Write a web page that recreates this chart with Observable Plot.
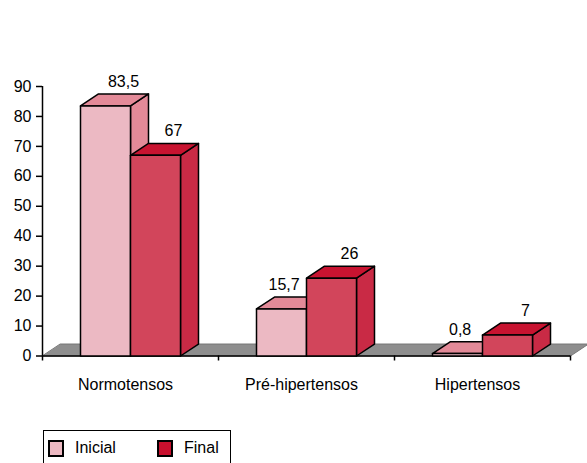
<!DOCTYPE html>
<html><head><meta charset="utf-8">
<script src="https://cdn.jsdelivr.net/npm/d3@7"></script>
<script src="https://cdn.jsdelivr.net/npm/@observablehq/plot@0.6"></script>
<style>
body{margin:0;background:#fff;font-family:"Liberation Sans",Arial,sans-serif;}
#wrap{position:relative;width:587px;height:463px;overflow:hidden;background:#fff;}
#legend{position:absolute;left:43px;top:430px;width:188px;height:45px;border:1.5px solid #000;box-sizing:border-box;font-size:16px;color:#000;}
.item{position:absolute;top:8px;display:flex;align-items:center;line-height:18px;}
.sw{width:16px;height:17px;border:2px solid #000;box-sizing:border-box;margin-right:11px;}
</style></head><body>
<div id="wrap"><div id="chart"></div><div id="legend"></div></div>
<script>
const categories = ["Normotensos", "Pré-hipertensos", "Hipertensos"];
const inicial = [83.5, 15.7, 0.8];
const final = [67, 26, 7];
const seriesNames = ["Inicial", "Final"];
const yTicks = [0, 10, 20, 30, 40, 50, 60, 70, 80, 90];

// styling (kept apart from data)
const palette = {
  Inicial: {front: "#ECB9C3", top: "#E38A98", side: "#E38A98", legend: "#EDB9C2"},
  Final: {front: "#D2455B", top: "#C81330", side: "#C92A45", legend: "#C8102E"}
};
const DDX = 18 / 176, DDY = 4;      // depth of 3D effect, in data units
const GAP = 38 / 176;               // gap before first bar in group

const seriesValues = {Inicial: inicial, Final: final};

// floor
const floor = [[0, 0], [3, 0], [3 + DDX, DDY], [0 + DDX, DDY]].map(([x, y]) => ({x, y}));

// faces of bars
const faces = [];
const labels = [];
categories.forEach((c, i) => {
  seriesNames.forEach((s, k) => {
    const v = seriesValues[s][i];
    const x1 = k === 0 ? i + GAP : i + 0.5;
    const x2 = k === 0 ? i + 0.5 : i + 1 - GAP;
    const col = palette[s];
    const push = (id, fill, pts) => pts.forEach(([x, y]) => faces.push({id, fill, x, y}));
    push(`${c}-${s}-side`, col.side, [[x2, 0], [x2 + DDX, DDY], [x2 + DDX, v + DDY], [x2, v]]);
    push(`${c}-${s}-top`, col.top, [[x1, v], [x2, v], [x2 + DDX, v + DDY], [x1 + DDX, v + DDY]]);
    push(`${c}-${s}-front`, col.front, [[x1, 0], [x2, 0], [x2, v], [x1, v]]);
    const blocked = k === 0 && final[i] > v;
    labels.push({
      x: (x1 + x2) / 2 + (blocked ? 0.015 : DDX),
      y: v + DDY,
      text: String(v).replace(".", ",")
    });
  });
});

const chart = Plot.plot({
  width: 587,
  height: 420,
  marginLeft: 42,
  marginRight: 17,
  marginTop: 86,
  marginBottom: 64.5,
  x: {domain: [0, 3], axis: null},
  y: {domain: [0, 90], axis: null},
  color: {type: "identity"},
  style: {fontFamily: "'Liberation Sans', Arial, sans-serif", fontSize: "16px", color: "#000", background: "#fff"},
  marks: [
    Plot.line(floor, {x: "x", y: "y", fill: "#8E8E8E", stroke: "#777", strokeWidth: 1, curve: "linear-closed"}),
    Plot.ruleY([0], {x1: 0, x2: 3, stroke: "#000", strokeWidth: 1.5}),
    Plot.ruleX([0], {y1: 0, y2: 90, stroke: "#000", strokeWidth: 1.5}),
    Plot.axisY(yTicks, {tickSize: 6, tickPadding: 5, fontSize: 16, label: null, strokeWidth: 1.5}),
    Plot.axisX([0, 1, 2, 3], {tickSize: 5, tickFormat: () => "", label: null, strokeWidth: 1.5}),
    Plot.line(faces, {x: "x", y: "y", z: "id", fill: "fill", stroke: "#000", strokeWidth: 1.5, strokeLinejoin: "round", curve: "linear-closed"}),
    Plot.text(labels, {x: "x", y: "y", text: "text", dy: -7, lineAnchor: "bottom", fontSize: 16, fill: "#000"}),
    Plot.text(categories, {x: (d, i) => i + 0.5, y: () => 0, text: d => d, dx: -5, dy: 29, lineAnchor: "middle", fontSize: 16, fill: "#000"})
  ]
});
document.getElementById("chart").appendChild(chart);

// legend
const legend = document.getElementById("legend");
const lefts = [4, 113];
seriesNames.forEach((s, k) => {
  const it = document.createElement("div");
  it.className = "item";
  it.style.left = lefts[k] + "px";
  const sw = document.createElement("div");
  sw.className = "sw";
  sw.style.background = palette[s].legend;
  const t = document.createElement("span");
  t.textContent = s;
  it.appendChild(sw); it.appendChild(t);
  legend.appendChild(it);
});
</script>
</body></html>
